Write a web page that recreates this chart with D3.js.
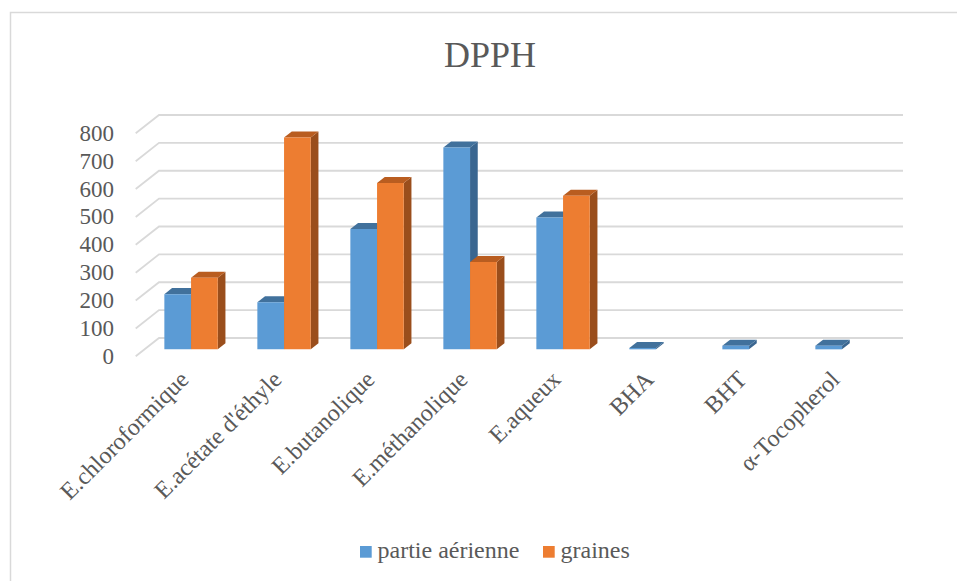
<!DOCTYPE html>
<html>
<head>
<meta charset="utf-8">
<script src="https://cdn.jsdelivr.net/npm/d3@7"></script>
<style>
  html, body { margin: 0; padding: 0; background: #fff; }
  svg { display: block; }
</style>
</head>
<body>
<svg id="chart" width="957" height="581"></svg>
<script>
// Extracts and reference antioxidants
const categories = ["E.chloroformique", "E.acétate d'éthyle", "E.butanolique", "E.méthanolique",
                    "E.aqueux", "BHA", "BHT", "α-Tocopherol"];
const partieAerienne = [198, 169, 432, 724, 473, 5, 13, 13];
const graines = [257, 760, 597, 313, 551, null, null, null];
const yTicks = [0, 100, 200, 300, 400, 500, 600, 700, 800];
const seriesNames = ["partie aérienne", "graines"];
const titleText = "DPPH";

const series = [
  { name: seriesNames[0], values: partieAerienne, front: "#5B9BD5", top: "#41719C", side: "#3A6690" },
  { name: seriesNames[1], values: graines, front: "#ED7D31", top: "#B95D20", side: "#9A4E1C" }
];

const svg = d3.select("#chart");
const font = "'Liberation Serif', 'Times New Roman', serif";
const textColor = "#595959";

// chart frame
svg.append("rect")
  .attr("x", 10.5).attr("y", 12.5).attr("width", 980).attr("height", 620)
  .attr("fill", "none").attr("stroke", "#D9D9D9").attr("stroke-width", 1.5);

// oblique projection: depth 0 = back wall, 1 = front edge of the floor
const DX = -23.3, DY = 18.3;
const y = d3.scaleLinear().domain([0, 800]).range([338, 115]);
const x = d3.scaleBand().domain(categories).range([159, 903]);
const barW = 26.7;
const dFront = 0.62, dBack = 0.29;
const P = (xb, v, d) => [xb + DX * d, y(v) + DY * d];

// gridlines on the back wall with their floor-side diagonal
const grid = svg.append("g");
yTicks.forEach(t => {
  const pts = [P(x.range()[0], t, 1), P(x.range()[0], t, 0), P(x.range()[1], t, 0)];
  grid.append("polyline")
    .attr("points", pts.map(p => p.join(",")).join(" "))
    .attr("fill", "none").attr("stroke", "#D9D9D9").attr("stroke-width", 1.8);
  const lp = P(x.range()[0], t, 1);
  svg.append("text")
    .attr("x", 114).attr("y", lp[1])
    .attr("text-anchor", "end").attr("dominant-baseline", "central")
    .attr("font-family", font).attr("font-size", 23).attr("fill", textColor)
    .text(d3.format("d")(t));
});

// 3D columns
const bars = svg.append("g");
const groupW = barW * series.length;
categories.forEach((c, i) => {
  const x0 = x(c) + (x.bandwidth() - groupW) / 2;
  series.forEach((s, k) => {
    const v = s.values[i];
    if (v === null || v === undefined) return;
    const xl = x0 + k * barW, xr = xl + barW;
    const poly = (pts, fill) => bars.append("polygon")
      .attr("points", pts.map(p => p.join(",")).join(" "))
      .attr("fill", fill);
    // right side face
    poly([P(xr, 0, dFront), P(xr, 0, dBack), P(xr, v, dBack), P(xr, v, dFront)], s.side);
    // top face
    poly([P(xl, v, dFront), P(xl, v, dBack), P(xr, v, dBack), P(xr, v, dFront)], s.top);
    // front face
    poly([P(xl, 0, dFront), P(xl, v, dFront), P(xr, v, dFront), P(xr, 0, dFront)], s.front);
  });
});

// category labels, rotated
categories.forEach(c => {
  const cx = x(c) + x.bandwidth() / 2 + DX * dFront;
  svg.append("text")
    .attr("transform", `translate(${cx - 7},${375}) rotate(-45)`)
    .attr("text-anchor", "end").attr("dy", "0.35em")
    .attr("font-family", font).attr("font-size", 24).attr("fill", textColor)
    .text(c);
});

// title
svg.append("text")
  .attr("x", 490).attr("y", 67)
  .attr("text-anchor", "middle")
  .attr("font-family", font).attr("font-size", 36).attr("fill", textColor)
  .text(titleText);

// legend
const legendX = [360, 543];
series.forEach((s, k) => {
  svg.append("rect")
    .attr("x", legendX[k]).attr("y", 546).attr("width", 11.7).attr("height", 11.7)
    .attr("fill", s.front);
  svg.append("text")
    .attr("x", legendX[k] + 17.5).attr("y", 558)
    .attr("font-family", font).attr("font-size", 24).attr("fill", textColor)
    .text(s.name);
});
</script>
</body>
</html>
